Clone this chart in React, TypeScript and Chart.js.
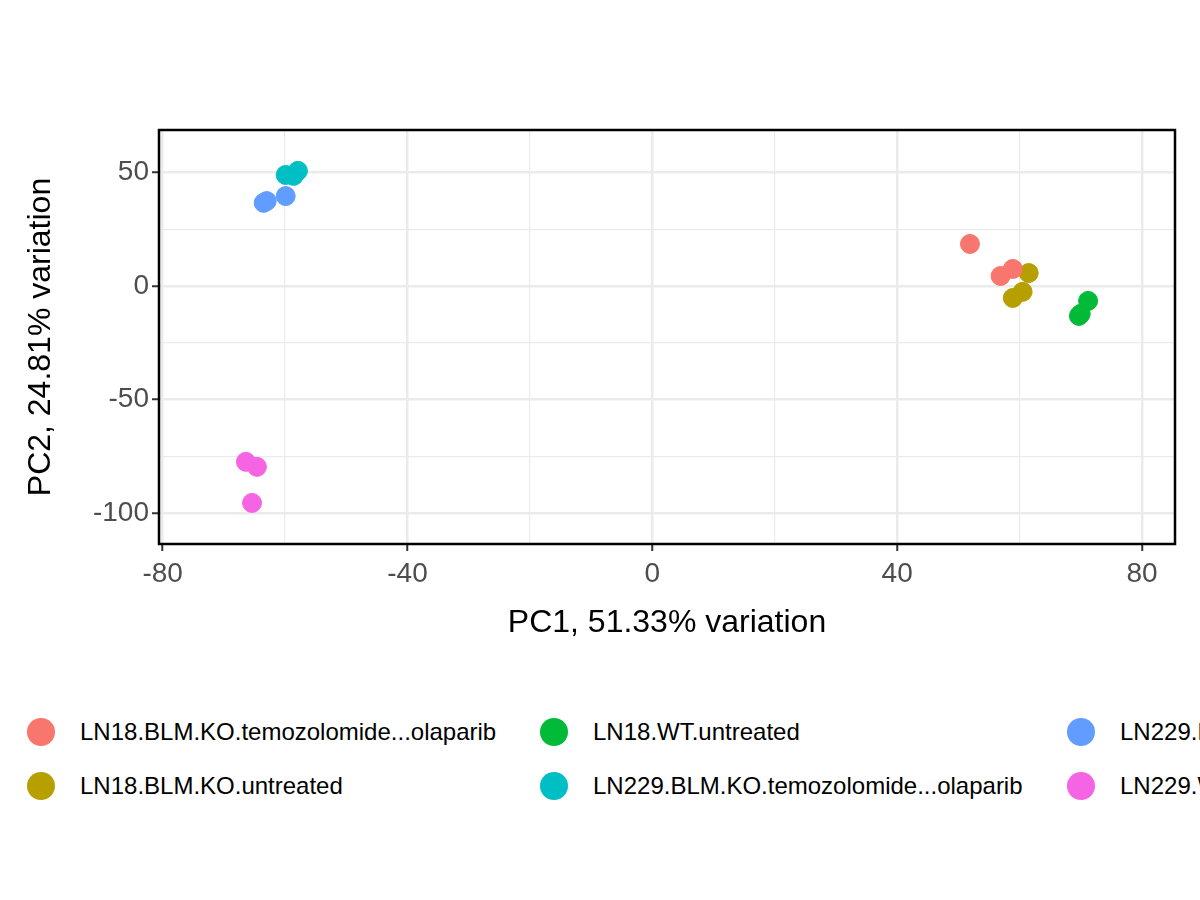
import React, { useEffect, useRef } from "react";
import { Chart, registerables } from "chart.js";
Chart.register(...registerables);

const groups = [
  "LN18.BLM.KO.temozolomide...olaparib",
  "LN18.BLM.KO.untreated",
  "LN18.WT.untreated",
  "LN229.BLM.KO.temozolomide...olaparib",
  "LN229.BLM.KO.untreated",
  "LN229.WT.untreated",
];
const colors = ["#F8766D", "#B79F00", "#00BA38", "#00BFC4", "#619CFF", "#F564E3"];
const pc1 = [
  [51.9, 56.9, 58.9],
  [61.5, 60.5, 58.9],
  [71.2, 69.7, 70.0],
  [-57.9, -59.9, -58.6],
  [-63.5, -63.0, -59.9],
  [-66.4, -64.6, -65.4],
];
const pc2 = [
  [18.5, 4.4, 7.5],
  [5.7, -2.6, -5.3],
  [-6.6, -13.2, -12.3],
  [50.7, 48.9, 48.5],
  [36.6, 37.4, 39.6],
  [-77.5, -79.7, -95.6],
];
const legendOrder = [0, 1, 2, 3, 4, 5];

export default function App() {
  const ref = useRef<HTMLCanvasElement>(null);
  useEffect(() => {
    document.body.style.margin = "0";
    const frame = {
      id: "frame",
      afterDraw(c: any) {
        const a = c.chartArea, ctx = c.ctx;
        ctx.save(); ctx.strokeStyle = "#000"; ctx.lineWidth = 2.5;
        ctx.strokeRect(a.left, a.top, a.right - a.left, a.bottom - a.top);
        ctx.restore();
      },
    };
    const chart = new Chart(ref.current!, {
      type: "scatter",
      data: {
        datasets: groups.map((g, i) => ({
          label: g,
          data: pc1[i].map((x, j) => ({ x, y: pc2[i][j] })),
          backgroundColor: colors[i],
          borderColor: colors[i],
          pointRadius: 9.5,
        })),
      },
      plugins: [frame],
      options: {
        animation: false,
        responsive: false,
        layout: { padding: { top: 130, right: 25, left: 0, bottom: 0 } },
        plugins: { legend: { display: false }, tooltip: { enabled: false } },
        scales: {
          x: {
            min: -80.6, max: 85.4,
            afterFit: (s: any) => { s.height = 116; },
            border: { display: false },
            grid: {
              color: "#ebebeb",
              lineWidth: (c: any) => (Math.round(c.tick?.value) % 40 === 0 ? 2.5 : 1.2),
              tickColor: (c: any) => (Math.round(c.tick?.value) % 40 === 0 ? "#333" : "rgba(0,0,0,0)"),
              tickLength: 7, tickWidth: 2,
            },
            ticks: {
              stepSize: 20, includeBounds: false, autoSkip: false, maxRotation: 0, padding: 6,
              color: "#4d4d4d", font: { family: "Liberation Sans", size: 28 },
              callback: (v: any) => (Math.round(v) % 40 === 0 ? String(v) : ""),
            },
            title: { display: true, text: "PC1, 51.33% variation", color: "#000", font: { family: "Liberation Sans", size: 32 }, padding: { top: 0, bottom: 18 } },
          },
          y: {
            min: -113.7, max: 68.7,
            afterFit: (s: any) => { s.width = 159; },
            border: { display: false },
            grid: {
              color: "#ebebeb",
              lineWidth: (c: any) => (Math.round(c.tick?.value) % 50 === 0 ? 2.5 : 1.2),
              tickColor: (c: any) => (Math.round(c.tick?.value) % 50 === 0 ? "#333" : "rgba(0,0,0,0)"),
              tickLength: 7, tickWidth: 2,
            },
            ticks: {
              stepSize: 25, includeBounds: false, autoSkip: false,
              color: "#4d4d4d", font: { family: "Liberation Sans", size: 28 },
              callback: (v: any) => (Math.round(v) % 50 === 0 ? String(v) : ""),
            },
            title: { display: true, text: "PC2, 24.81% variation", color: "#000", font: { family: "Liberation Sans", size: 32 }, padding: { top: 22, bottom: 0 } },
          },
        },
      },
    });
    return () => chart.destroy();
  }, []);
  const colX = [27, 540, 1067];
  const rowY = [718, 772];
  return (
    <div style={{ position: "relative", width: 1200, height: 900, overflow: "hidden", background: "#fff", fontFamily: "Liberation Sans, Arial, sans-serif" }}>
      <canvas ref={ref} width={1200} height={660} style={{ position: "absolute", left: 0, top: 0 }} />
      {legendOrder.map((gi, k) => {
        const col = Math.floor(k / 2), row = k % 2;
        return (
          <div key={gi} style={{ position: "absolute", left: colX[col], top: rowY[row], height: 28, display: "flex", alignItems: "center", whiteSpace: "nowrap" }}>
            <span style={{ width: 28, height: 28, borderRadius: 14, background: colors[gi], display: "inline-block" }} />
            <span style={{ marginLeft: 25, fontSize: 24, color: "#000" }}>{groups[gi]}</span>
          </div>
        );
      })}
    </div>
  );
}
